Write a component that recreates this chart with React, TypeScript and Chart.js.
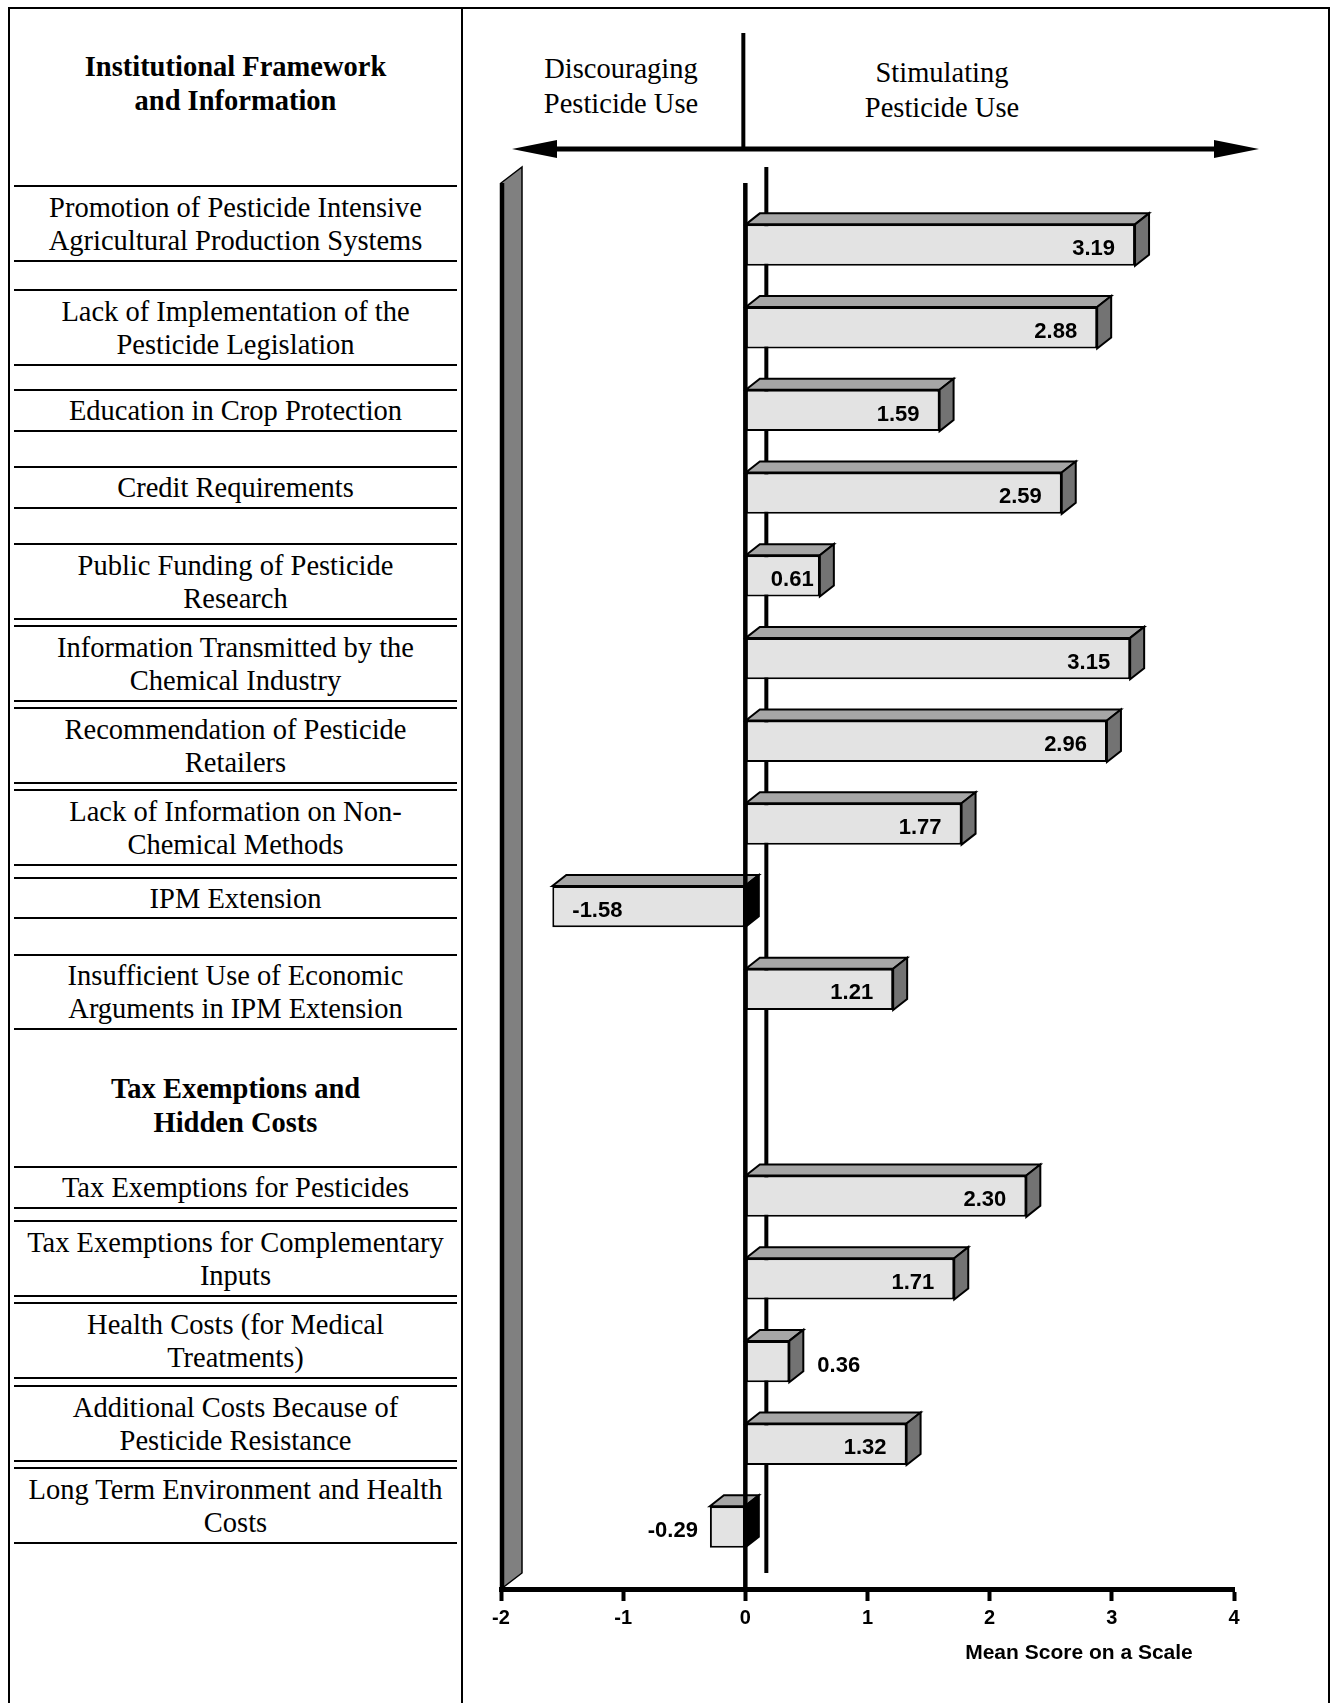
import React, { useEffect, useRef } from 'react';
import { Chart, registerables } from 'chart.js';

Chart.register(...registerables);

// ---------- data ----------
const categories: string[][] = [
  ['Promotion of Pesticide Intensive', 'Agricultural Production Systems'],
  ['Lack of Implementation of the', 'Pesticide Legislation'],
  ['Education in Crop Protection'],
  ['Credit Requirements'],
  ['Public Funding of Pesticide', 'Research'],
  ['Information Transmitted by the', 'Chemical Industry'],
  ['Recommendation of Pesticide', 'Retailers'],
  ['Lack of Information on Non-', 'Chemical Methods'],
  ['IPM Extension'],
  ['Insufficient Use of Economic', 'Arguments in IPM Extension'],
  ['Tax Exemptions for Pesticides'],
  ['Tax Exemptions for Complementary', 'Inputs'],
  ['Health Costs (for Medical', 'Treatments)'],
  ['Additional Costs Because of', 'Pesticide Resistance'],
  ['Long Term Environment and Health', 'Costs'],
];
const values: number[] = [3.19, 2.88, 1.59, 2.59, 0.61, 3.15, 2.96, 1.77, -1.58, 1.21, 2.30, 1.71, 0.36, 1.32, -0.29];
// category slot of each bar on the index axis (the second group starts after a gap)
const rowSlots: number[] = [0, 1, 2, 3, 4, 5, 6, 7, 8, 9, 11.5, 12.5, 13.5, 14.5, 15.5];
const groupTitles: string[][] = [
  ['Institutional Framework', 'and Information'],
  ['Tax Exemptions and', 'Hidden Costs'],
];
const directionLabels: string[][] = [
  ['Discouraging', 'Pesticide Use'],
  ['Stimulating', 'Pesticide Use'],
];
const axisTitle = 'Mean Score on a Scale';
const xMin = -2;
const xMax = 4;

// ---------- layout (page pixels) ----------
const rowLines: number[][] = [
  [186, 261], [290, 365], [390, 431], [467, 508], [544, 619], [626, 701], [708, 783],
  [790, 865], [878, 918], [955, 1029], [1167, 1208], [1221, 1296], [1303, 1378],
  [1386, 1461], [1468, 1543],
];
const groupTitleCenters = [83.5, 1105.5];
const directionCenters = [[621, 86], [942, 90]];
const CANVAS_LEFT = 464;
const CANVAS_W = 872;
const CANVAS_H = 1703;

const WALL_DX = 21;
const WALL_DY = -16;
const BAR_DX = 14;
const BAR_DY = -11;

const SERIF = '"Liberation Serif", "Times New Roman", Times, serif';
const SANS = '"Liberation Sans", Arial, Helvetica, sans-serif';

function poly(ctx: CanvasRenderingContext2D, pts: number[][], fill: string) {
  ctx.beginPath();
  ctx.moveTo(pts[0][0], pts[0][1]);
  for (let i = 1; i < pts.length; i++) ctx.lineTo(pts[i][0], pts[i][1]);
  ctx.closePath();
  ctx.fillStyle = fill;
  ctx.fill();
  ctx.lineWidth = 2;
  ctx.strokeStyle = '#000';
  ctx.lineJoin = 'miter';
  ctx.stroke();
}

const threeDPlugin = {
  id: 'threeD',
  beforeDatasetsDraw(chart: any) {
    const { ctx, chartArea: a, scales } = chart;
    const x = scales.x;
    const x0 = x.getPixelForValue(0);
    ctx.save();
    // left wall (at x = -2)
    ctx.beginPath();
    ctx.moveTo(a.left, a.bottom);
    ctx.lineTo(a.left, a.top);
    ctx.lineTo(a.left + WALL_DX, a.top + WALL_DY);
    ctx.lineTo(a.left + WALL_DX, a.bottom + WALL_DY);
    ctx.closePath();
    ctx.fillStyle = '#808080';
    ctx.fill();
    ctx.lineWidth = 1.5;
    ctx.strokeStyle = '#000';
    ctx.stroke();
    ctx.beginPath();
    ctx.moveTo(a.left + 1, a.top);
    ctx.lineTo(a.left + 1, a.bottom);
    ctx.lineWidth = 4.5;
    ctx.stroke();
    // back zero line
    ctx.beginPath();
    ctx.moveTo(x0 + WALL_DX, a.top + WALL_DY);
    ctx.lineTo(x0 + WALL_DX, a.bottom + WALL_DY);
    ctx.lineWidth = 4;
    ctx.stroke();
    // bar depth faces
    const meta = chart.getDatasetMeta(0);
    meta.data.forEach((bar: any, i: number) => {
      const p = bar.getProps(['x', 'y', 'base', 'height'], true);
      const top = p.y - p.height / 2;
      const bot = p.y + p.height / 2;
      const left = Math.min(p.x, p.base);
      const right = Math.max(p.x, p.base);
      poly(ctx, [[left, top], [left + BAR_DX, top + BAR_DY], [right + BAR_DX, top + BAR_DY], [right, top]], '#a6a6a6');
      poly(ctx, [[right, top], [right + BAR_DX, top + BAR_DY], [right + BAR_DX, bot + BAR_DY], [right, bot]], values[i] < 0 ? '#000000' : '#737373');
    });
    ctx.restore();
  },
  afterDatasetsDraw(chart: any) {
    const { ctx, chartArea: a, scales } = chart;
    const x = scales.x;
    const x0 = x.getPixelForValue(0);
    ctx.save();
    // front zero line
    ctx.beginPath();
    ctx.moveTo(x0, a.top);
    ctx.lineTo(x0, a.bottom);
    ctx.lineWidth = 4.5;
    ctx.strokeStyle = '#000';
    ctx.stroke();
    // value labels
    ctx.font = `bold 22px ${SANS}`;
    ctx.fillStyle = '#000';
    ctx.textBaseline = 'middle';
    const meta = chart.getDatasetMeta(0);
    meta.data.forEach((bar: any, i: number) => {
      const p = bar.getProps(['x', 'y', 'base', 'height'], true);
      const v = values[i];
      const txt = v.toFixed(2);
      const w = ctx.measureText(txt).width;
      const len = Math.abs(p.x - p.base);
      const pad = Math.min(20, len - w - 25);
      const yy = p.y + 4;
      if (pad >= 4) {
        if (v >= 0) {
          ctx.textAlign = 'right';
          ctx.fillText(txt, p.x - pad, yy);
        } else {
          ctx.textAlign = 'left';
          ctx.fillText(txt, p.x + pad, yy);
        }
      } else if (v >= 0) {
        ctx.textAlign = 'left';
        ctx.fillText(txt, p.x + BAR_DX + 14, yy);
      } else {
        ctx.textAlign = 'right';
        ctx.fillText(txt, p.x - 12, yy);
      }
    });
    ctx.restore();
  },
  afterDraw(chart: any) {
    const { ctx, chartArea: a, scales } = chart;
    const x = scales.x;
    const x0 = x.getPixelForValue(0);
    ctx.save();
    ctx.strokeStyle = '#000';
    ctx.fillStyle = '#000';
    // header divider
    ctx.beginPath();
    ctx.moveTo(x0 - 2, 33);
    ctx.lineTo(x0 - 2, 149);
    ctx.lineWidth = 4;
    ctx.stroke();
    // double arrow
    const ay = 149;
    const lx = a.left + 11;
    const rx = a.right + 25;
    const headL = 45;
    const headH = 9;
    ctx.beginPath();
    ctx.moveTo(lx + headL - 2, ay);
    ctx.lineTo(rx - headL + 2, ay);
    ctx.lineWidth = 5;
    ctx.stroke();
    ctx.beginPath();
    ctx.moveTo(lx, ay);
    ctx.lineTo(lx + headL, ay - headH);
    ctx.lineTo(lx + headL, ay + headH);
    ctx.closePath();
    ctx.fill();
    ctx.beginPath();
    ctx.moveTo(rx, ay);
    ctx.lineTo(rx - headL, ay - headH);
    ctx.lineTo(rx - headL, ay + headH);
    ctx.closePath();
    ctx.fill();
    // axis title
    ctx.font = `bold 21px ${SANS}`;
    ctx.textAlign = 'center';
    ctx.textBaseline = 'middle';
    ctx.fillText(axisTitle, 1079 - CANVAS_LEFT, 1653);
    ctx.restore();
  },
};

export default function App() {
  const canvasRef = useRef<HTMLCanvasElement | null>(null);

  useEffect(() => {
    const canvas = canvasRef.current;
    if (!canvas) return;
    const chart = new Chart(canvas, {
      type: 'bar',
      data: {
        labels: categories.map((c) => c.join(' ')),
        datasets: [
          {
            data: values.map((v, i) => ({ x: v, y: rowSlots[i] })),
            backgroundColor: '#e3e3e3',
            borderColor: '#000000',
            borderWidth: 2,
            borderSkipped: false,
            barPercentage: 0.5,
            categoryPercentage: 1,
          } as any,
        ],
      },
      options: {
        indexAxis: 'y',
        animation: false,
        responsive: false,
        events: [],
        layout: { padding: { top: 183, bottom: 0, left: 37, right: 102 } },
        plugins: { legend: { display: false }, tooltip: { enabled: false } },
        scales: {
          x: {
            type: 'linear',
            min: xMin,
            max: xMax,
            ticks: {
              stepSize: 1,
              color: '#000',
              padding: 5,
              font: { family: SANS, size: 20, weight: 'bold' },
            },
            grid: {
              display: true,
              drawOnChartArea: false,
              drawTicks: true,
              tickLength: 12,
              tickWidth: 4,
              tickColor: '#000',
            },
            border: { display: true, color: '#000', width: 5 },
            afterFit: (s: any) => {
              s.height = 114;
            },
          },
          y: {
            type: 'linear',
            reverse: true,
            min: -0.75,
            max: 16.25,
            display: false,
            afterBuildTicks: (s: any) => {
              s.ticks = [];
            },
          },
        },
      } as any,
      plugins: [threeDPlugin],
    });
    return () => chart.destroy();
  }, []);

  const textStyle: React.CSSProperties = {
    fontFamily: SERIF,
    fontSize: '28.5px',
    color: '#000',
    whiteSpace: 'nowrap',
    textAlign: 'center',
  };

  return (
    <div style={{ position: 'absolute', left: 0, top: 0, width: 1336, height: 1703, overflow: 'hidden', background: '#fff' }}>
      <div style={{ position: 'absolute', left: 8, top: 7, width: 1322, height: 1760, border: '2px solid #000', boxSizing: 'border-box' }} />
      <div style={{ position: 'absolute', left: 461, top: 7, width: 2, height: 1703, background: '#000' }} />
      {groupTitles.map((g, gi) => (
        <div
          key={'g' + gi}
          style={{ ...textStyle, position: 'absolute', left: 14, width: 443, top: groupTitleCenters[gi] - 34, height: 68, lineHeight: '34px', fontWeight: 'bold' }}
        >
          {g.map((l, li) => (
            <div key={li}>{l}</div>
          ))}
        </div>
      ))}
      {categories.map((c, i) => {
        const [t, b] = rowLines[i];
        return (
          <div
            key={'r' + i}
            style={{
              ...textStyle,
              position: 'absolute',
              left: 14,
              width: 443,
              top: t - 1,
              height: b - t + 2,
              borderTop: '2px solid #000',
              borderBottom: '2px solid #000',
              boxSizing: 'border-box',
              display: 'flex',
              flexDirection: 'column',
              justifyContent: 'center',
              alignItems: 'center',
              lineHeight: '33px',
            }}
          >
            {c.map((l, li) => (
              <div key={li}>{l}</div>
            ))}
          </div>
        );
      })}
      {directionLabels.map((d, di) => (
        <div
          key={'d' + di}
          style={{
            ...textStyle,
            position: 'absolute',
            left: directionCenters[di][0] - 120,
            width: 240,
            top: directionCenters[di][1] - 35,
            height: 70,
            lineHeight: '35px',
          }}
        >
          {d.map((l, li) => (
            <div key={li}>{l}</div>
          ))}
        </div>
      ))}
      <canvas ref={canvasRef} width={CANVAS_W} height={CANVAS_H} style={{ position: 'absolute', left: CANVAS_LEFT, top: 0 }} />
    </div>
  );
}
